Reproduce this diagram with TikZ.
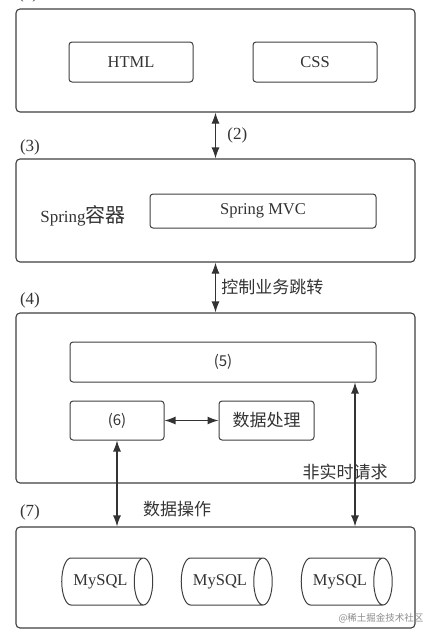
\documentclass[tikz,border=0pt]{standalone}
\usepackage{fontspec}
\setmainfont{Liberation Serif}
\newfontfamily\cjk{Noto Sans CJK SC}
\usetikzlibrary{arrows.meta,shapes.geometric}
\tikzset{
  layer/.style={draw=black!75, line width=1.1pt, rounded corners=4pt, minimum width=399pt, inner sep=0pt},
  part/.style={draw=black!75, line width=1pt, rounded corners=3pt, inner sep=0pt, text=black!80, font=\fontsize{16.5}{18}\selectfont},
  dbase/.style={cylinder, draw=black!75, line width=1pt, minimum width=47pt, minimum height=91pt, shape aspect=1, inner sep=2pt, text=black!80, font=\fontsize{16.5}{18}\selectfont},
  both/.style={{Latex[length=11pt,width=8pt]}-{Latex[length=11pt,width=8pt]}, line width=1.1pt, draw=black!80},
  tag/.style={text=black!80, font=\fontsize{17}{19}\selectfont},
  note/.style={text=black!80, font=\cjk\fontsize{17}{19}\selectfont}
}
\begin{document}
\begin{tikzpicture}[x=1pt,y=-1pt]
    \useasboundingbox[fill=white] (0,0) rectangle (437,638);
    % layers
    \node[layer, minimum height=103pt] (web) at (215.5,60.5) {};
    \node[layer, minimum height=103pt] (spring) at (215.5,210.5) {};
    \node[layer, minimum height=170pt] (logic) at (215.5,398) {};
    \node[layer, minimum height=101pt] (store) at (215.5,577.5) {};
    % layer labels
    \node[tag] (l1) at (28,-6) {(1)};
    \node[tag] (l3) at (30,147) {(3)};
    \node[tag] (l4) at (30,300) {(4)};
    \node[tag] (l7) at (30,512) {(7)};
    % web layer
    \node[part, minimum width=124pt, minimum height=40pt] (html) at (131,62) {HTML};
    \node[part, minimum width=124pt, minimum height=40pt] (css) at (315,62) {CSS};
    % spring layer
    \node[text=black!80, font=\fontsize{17}{19}\selectfont] (ioc) at (83,216) {Spring{\cjk\fontsize{20}{22}\selectfont 容器}};
    \node[part, minimum width=226pt, minimum height=34pt] (mvc) at (263,211) {Spring MVC};
    % logic layer
    \node[part, minimum width=306pt, minimum height=40pt, font=\cjk\fontsize{15}{17}\selectfont] (five) at (223,362) {(5)};
    \node[part, minimum width=94pt, minimum height=39pt, font=\cjk\fontsize{15}{17}\selectfont] (six) at (117,420.5) {(6)};
    \node[part, minimum width=95pt, minimum height=39pt, font=\cjk\fontsize{17}{19}\selectfont] (proc) at (266.5,420.5) {数据处理};
    \node[note] (rt) at (345,472) {非实时请求};
    % storage layer
    \node[dbase] (db1) at (100.5,581.5) {MySQL};
    \node[dbase] (db2) at (220,581.5) {MySQL};
    \node[dbase] (db3) at (340,581.5) {MySQL};
    \node[text=black!45, font=\cjk\fontsize{9.5}{11}\selectfont] (wm) at (381,618) {@稀土掘金技术社区};
    % connectors
    \coordinate (rx) at (355,0);
    \draw[both] (web.south) -- (spring.north) node[pos=0.5, right=8pt, tag] (c2) {(2)};
    \draw[both] (spring.south) -- (logic.north) node[pos=0.5, right=2pt, note] (ctl) {控制业务跳转};
    \draw[both] (six.east) -- (proc.west);
    \draw[both] (six.south) -- (six.south |- store.north);
    \draw[both] (five.south -| rx) -- (store.north -| rx);
    \node[note] (ops) at (177,509) {数据操作};
\end{tikzpicture}
\end{document}
